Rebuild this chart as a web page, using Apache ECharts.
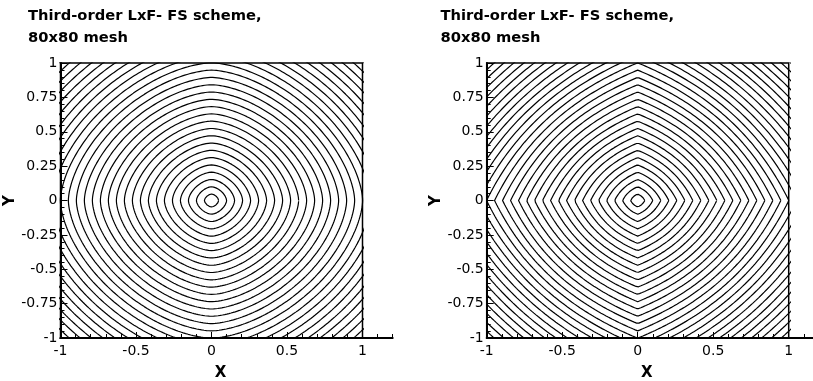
<!DOCTYPE html>
<html>
<head>
<meta charset="utf-8">
<script src="https://cdn.jsdelivr.net/npm/echarts@6/dist/echarts.min.js"></script>
<style>
  html, body { margin: 0; padding: 0; background: #fff; }
  #chart { width: 813px; height: 381px; }
</style>
</head>
<body>
<div id="chart"></div>
<script>
// contour levels (value where each line cuts the axes)
const levels = [0.047, 0.100, 0.153, 0.206, 0.259, 0.312, 0.365, 0.418, 0.471, 0.524,
  0.577, 0.630, 0.683, 0.736, 0.789, 0.842, 0.895, 0.948, 1.001, 1.054,
  1.107, 1.160, 1.213, 1.266, 1.319, 1.372, 1.425, 1.478, 1.531, 1.584,
  1.637, 1.690, 1.743, 1.796, 1.849, 1.902, 1.955]
// left: rounded diamond (exponent of |x|^p + |y|^p)
const leftPower = 1.65
// right: pointed diamond (0 = circle, 1 = straight diamond)
const rightShape = 0.45
const xTicks = [-1, -0.5, 0, 0.5, 1]
const yTicks = [-1, -0.75, -0.5, -0.25, 0, 0.25, 0.5, 0.75, 1]
const titleText = 'Third-order LxF- FS scheme,\n80x80 mesh'

const roundedDiamond = (c, s) => Math.pow(Math.pow(Math.abs(c), leftPower) + Math.pow(Math.abs(s), leftPower), 1 / leftPower)
const pointedDiamond = (c, s) => rightShape * (Math.abs(c) + Math.abs(s)) + 1 - rightShape

const contour = (level, norm) => {
  const pts = []
  for (let i = 0; i <= 720; i++) {
    const a = i / 720 * 2 * Math.PI
    const c = Math.cos(a), s = Math.sin(a)
    const r = level / norm(c, s)
    pts.push([r * c, r * s])
  }
  return pts
}

const font = 'DejaVu Sans'
const panels = [
  {left: 60.5, titleLeft: 28, norm: roundedDiamond},
  {left: 486.7, titleLeft: 440.5, norm: pointedDiamond}
]
const boxTop = 63, boxW = 302, boxH = 275

const grid = [], xAxis = [], yAxis = [], series = [], title = []

panels.forEach((p, i) => {
  const g = i * 2
  title.push({
    text: titleText, left: p.titleLeft, top: 5, padding: 0,
    textStyle: {fontFamily: font, fontSize: 14.7, fontWeight: 'bold', color: '#000', lineHeight: 22}
  })
  grid.push({left: p.left, top: boxTop, width: boxW, height: boxH, show: true, outerBoundsMode: 'none',
    borderColor: '#000', borderWidth: 1.5, backgroundColor: 'transparent'})
  grid.push({left: p.left, top: boxTop, width: boxW * 1.1, height: boxH, show: false, outerBoundsMode: 'none'})

  xAxis.push({
    gridIndex: g, type: 'value', min: -1, max: 1, interval: 0.5, position: 'bottom',
    axisLine: {show: false, onZero: false},
    axisTick: {show: true, inside: true, length: 6, lineStyle: {color: '#000', width: 1}},
    axisLabel: {margin: 6, color: '#000', fontFamily: font, fontSize: 14,
      formatter: v => xTicks.includes(v) ? String(v) : ''},
    splitLine: {show: false}
  })
  xAxis.push({
    gridIndex: g + 1, type: 'value', min: -1, max: 1.2, interval: 0.1, position: 'bottom',
    axisLine: {show: true, onZero: false, lineStyle: {color: '#000', width: 2}},
    axisTick: {show: true, inside: true, length: 4, lineStyle: {color: '#000', width: 1}},
    axisLabel: {show: false},
    splitLine: {show: false},
    name: 'X', nameLocation: 'middle', nameGap: 28,
    nameTextStyle: {fontFamily: font, fontSize: 15, fontWeight: 'bold', color: '#000', padding: [0, 12, 0, 0]}
  })
  yAxis.push({
    gridIndex: g, type: 'value', min: -1, max: 1, interval: 0.25, position: 'left',
    axisLine: {show: true, onZero: false, lineStyle: {color: '#000', width: 2}},
    axisTick: {show: true, inside: true, length: 7, lineStyle: {color: '#000', width: 1}},
    minorTick: {show: true, splitNumber: 5, length: 4, lineStyle: {color: '#000', width: 1}},
    axisLabel: {margin: 3, color: '#000', fontFamily: font, fontSize: 14,
      formatter: v => yTicks.includes(v) ? String(v) : ''},
    splitLine: {show: false},
    name: 'Y', nameLocation: 'middle', nameGap: 43,
    nameTextStyle: {fontFamily: font, fontSize: 15, fontWeight: 'bold', color: '#000'}
  })
  yAxis.push({gridIndex: g + 1, type: 'value', min: -1, max: 1, show: false,
    axisLine: {onZero: false}})

  levels.forEach(lv => {
    series.push({
      type: 'line', xAxisIndex: g, yAxisIndex: g, data: contour(lv, p.norm),
      showSymbol: false, symbol: 'none', clip: true, silent: true,
      lineStyle: {color: '#000', width: 1.2}
    })
  })
})

const myChart = echarts.init(document.getElementById('chart'))
myChart.setOption({animation: false, title, grid, xAxis, yAxis, series})
</script>
</body>
</html>
